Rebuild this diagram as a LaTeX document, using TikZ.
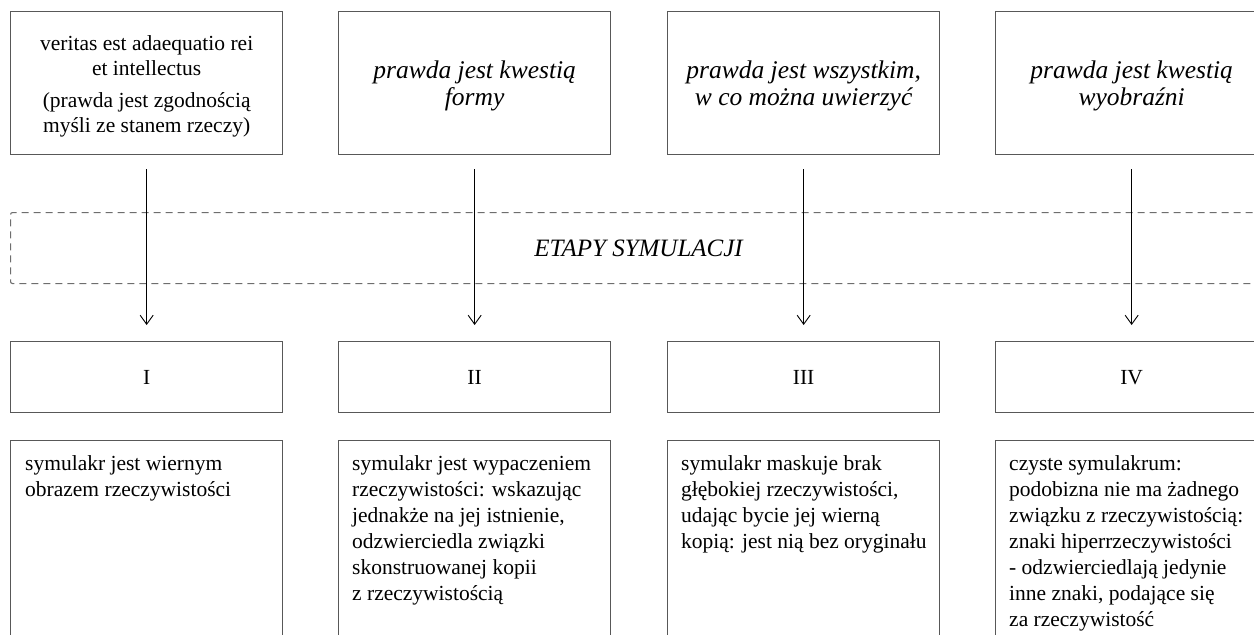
\documentclass[tikz,border=0pt]{standalone}
\usepackage{fontspec}
\setmainfont{Liberation Serif}
\usetikzlibrary{arrows.meta}
\definecolor{boxgray}{RGB}{88,88,88}
\definecolor{dashgray}{RGB}{110,110,110}
\begin{document}
\begin{tikzpicture}[x=1pt,y=-1pt,
  frame/.style={draw=boxgray, line width=1.3pt, inner sep=0pt, anchor=north west, minimum width=272pt},
  topbox/.style={frame, minimum height=143pt},
  toptext/.style={inner sep=0pt, align=center, yshift=-3pt},
  regtext/.style={font=\fontsize{21.5}{24.5}\selectfont},
  ittext/.style={font=\itshape\fontsize{25.5}{26.5}\selectfont},
  numbox/.style={frame, minimum height=71pt, font=\fontsize{21.5}{24.5}\selectfont},
  lowbox/.style={frame, minimum height=230pt},
  lowtext/.style={inner sep=0pt, anchor=north west, align=left, font=\fontsize{21.5}{26}\selectfont},
  dashbox/.style={draw=dashgray, line width=1.1pt, dash pattern=on 7pt off 5pt, rounded corners=2pt, inner sep=0pt, anchor=north west, minimum width=1256pt, minimum height=71pt, font=\itshape\fontsize{25}{27}\selectfont},
  arr/.style={draw=black, line width=0.9pt, -{Straight Barb[length=9pt,width=13pt,line width=0.9pt]}, shorten <=14pt, shorten >=16pt}
]
\useasboundingbox (0,0) rectangle (1254,635);
\clip (0,0) rectangle (1254,635);

% dashed band
\node[dashbox] (band) at (10,212) {ETAPY SYMULACJI};

% top boxes
\node[topbox] (t1) at (10,11) {};
\node[topbox] (t2) at (338,11) {};
\node[topbox] (t3) at (667,11) {};
\node[topbox] (t4) at (995,11) {};
\node[toptext, regtext] (q1) at (t1.center) {veritas est adaequatio rei\\ et intellectus\\[8pt] (prawda jest zgodnością\\ myśli ze stanem rzeczy)};
\node[toptext, ittext] (q2) at (t2.center) {prawda jest kwestią\\ formy};
\node[toptext, ittext] (q3) at (t3.center) {prawda jest wszystkim,\\ w co można uwierzyć};
\node[toptext, ittext] (q4) at (t4.center) {prawda jest kwestią\\ wyobraźni};

% numbered boxes
\node[numbox] (r1) at (10,341) {I};
\node[numbox] (r2) at (338,341) {II};
\node[numbox] (r3) at (667,341) {III};
\node[numbox] (r4) at (995,341) {IV};

% arrows
\draw[arr] (t1.south) -- (r1.north);
\draw[arr] (t2.south) -- (r2.north);
\draw[arr] (t3.south) -- (r3.north);
\draw[arr] (t4.south) -- (r4.north);

% lower boxes
\node[lowbox] (b1) at (10,440) {};
\node[lowbox] (b2) at (338,440) {};
\node[lowbox] (b3) at (667,440) {};
\node[lowbox] (b4) at (995,440) {};

\node[lowtext] (d1) at ([xshift=15pt,yshift=-15pt]b1.north west) {symulakr jest wiernym\\ obrazem rzeczywistości};
\node[lowtext] (d2) at ([xshift=14pt,yshift=-15pt]b2.north west) {symulakr jest wypaczeniem\\ rzeczywistości: wskazując\\ jednakże na jej istnienie,\\ odzwierciedla związki\\ skonstruowanej kopii\\ z rzeczywistością};
\node[lowtext] (d3) at ([xshift=14pt,yshift=-15pt]b3.north west) {symulakr maskuje brak\\ głębokiej rzeczywistości,\\ udając bycie jej wierną\\ kopią: jest nią bez oryginału};
\node[lowtext] (d4) at ([xshift=14pt,yshift=-15pt]b4.north west) {czyste symulakrum:\\ podobizna nie ma żadnego\\ związku z rzeczywistością:\\ znaki hiperrzeczywistości\\ - odzwierciedlają jedynie\\ inne znaki, podające się\\ za rzeczywistość};
\end{tikzpicture}
\end{document}
